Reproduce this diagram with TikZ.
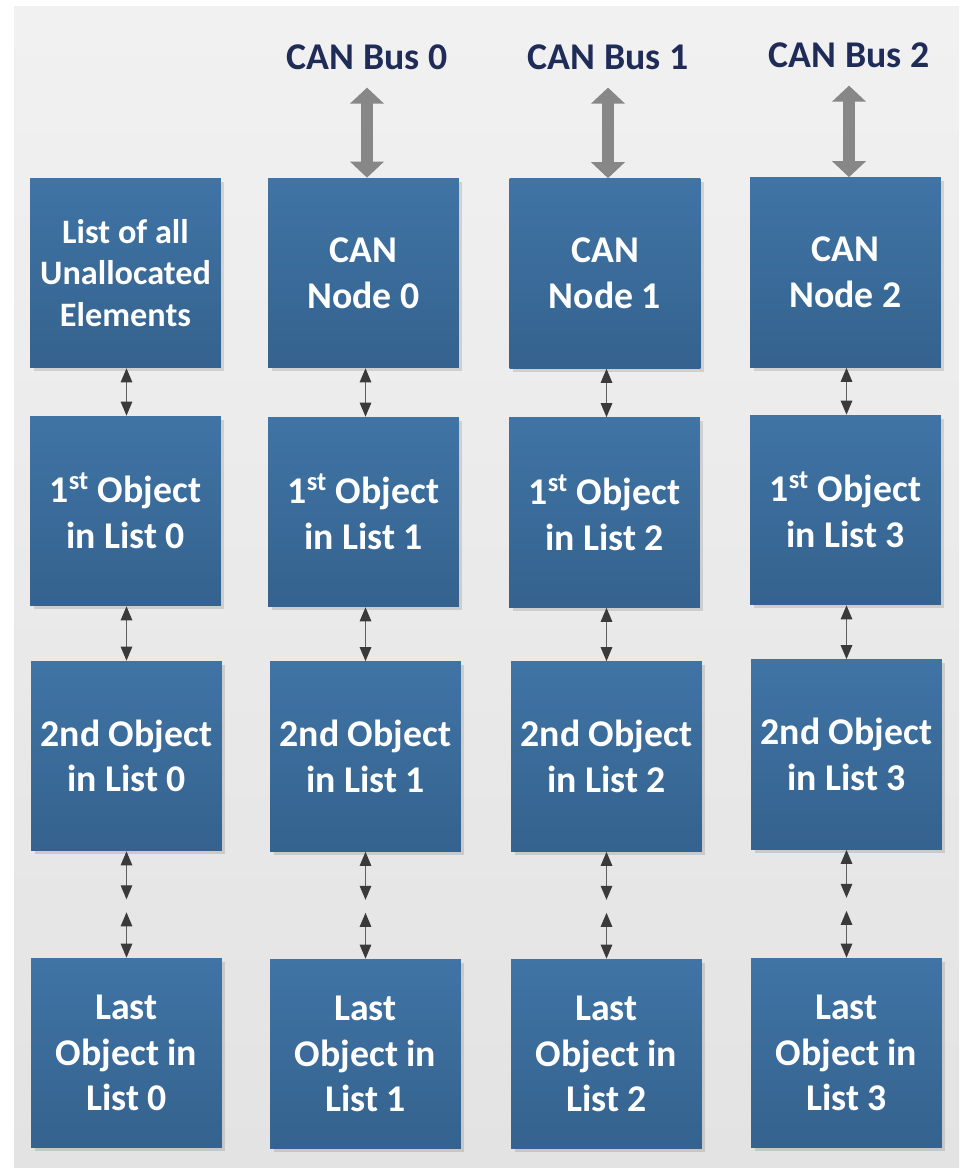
\documentclass[tikz,border=0pt]{standalone}
\usepackage{fontspec}
\setmainfont{Carlito}
\usetikzlibrary{arrows.meta,shadows}

\definecolor{boxtop}{RGB}{63,116,165}
\definecolor{boxbot}{RGB}{53,98,142}
\definecolor{bustext}{RGB}{32,44,88}
\definecolor{busgray}{RGB}{135,135,135}
\definecolor{headgray}{RGB}{58,58,58}
\definecolor{shaftgray}{RGB}{95,95,95}
\definecolor{paneltop}{RGB}{241,241,241}
\definecolor{panelbot}{RGB}{227,227,227}

\tikzset{
  listbox/.style={rectangle, minimum width=3.82cm, minimum height=3.8cm,
    top color=boxtop, bottom color=boxbot, text=white, align=center, inner sep=0pt,
    font=\fontsize{21.5}{26}\selectfont\bfseries,
    drop shadow={shadow xshift=0.07cm, shadow yshift=-0.07cm, fill=black, opacity=0.12}},
  buslabel/.style={text=bustext, anchor=base, inner xsep=0pt, inner ysep=0.34cm,
    font=\fontsize{21.5}{26}\selectfont\bfseries},
  link/.style={draw=shaftgray, line width=0.7pt,
    {Triangle[width=0.23cm,length=0.28cm,color=headgray]}-{Triangle[width=0.23cm,length=0.28cm,color=headgray]}},
  busarrow/.style={draw=busgray, line width=0.24cm,
    {Triangle[width=0.66cm,length=0.32cm]}-{Triangle[width=0.66cm,length=0.32cm]}}
}

\begin{document}
\begin{tikzpicture}[x=0.02cm,y=-0.02cm]
\useasboundingbox (0,0) rectangle (959,1168);
\shade[top color=paneltop, bottom color=panelbot] (14,7) rectangle (959,1168);

% bus labels
\node[buslabel] (bus0) at (367,70) {CAN Bus 0};
\node[buslabel] (bus1) at (608,70) {CAN Bus 1};
\node[buslabel] (bus2) at (849,68) {CAN Bus 2};

% top row
\node[listbox, font=\fontsize{19.5}{23.5}\selectfont\bfseries] (head0) at (125.5,273) {List of all\\Unallocated\\Elements};
\node[listbox] (head1) at (363.5,273) {CAN\\Node 0};
\node[listbox] (head2) at (605,273.5) {CAN\\Node 1};
\node[listbox] (head3) at (845.5,272.5) {CAN\\Node 2};

% first objects
\node[listbox] (first0) at (125.5,511) {1\textsuperscript{st} Object\\in List 0};
\node[listbox] (first1) at (363.5,512) {1\textsuperscript{st} Object\\in List 1};
\node[listbox] (first2) at (604.5,512.5) {1\textsuperscript{st} Object\\in List 2};
\node[listbox] (first3) at (845.5,510) {1\textsuperscript{st} Object\\in List 3};

% second objects
\node[listbox] (second0) at (126.5,756) {2nd Object\\in List 0};
\node[listbox] (second1) at (365.5,756.5) {2nd Object\\in List 1};
\node[listbox] (second2) at (606.5,756.5) {2nd Object\\in List 2};
\node[listbox] (second3) at (846.5,754.5) {2nd Object\\in List 3};

% last objects
\node[listbox] (last0) at (126.5,1053) {Last\\Object in\\List 0};
\node[listbox] (last1) at (365.5,1054) {Last\\Object in\\List 1};
\node[listbox] (last2) at (606.5,1054) {Last\\Object in\\List 2};
\node[listbox] (last3) at (846.5,1053) {Last\\Object in\\List 3};

% bus connections
\draw[busarrow] (bus0.south) -- (bus0.south |- head1.north);
\draw[busarrow] (bus1.south) -- (bus1.south |- head2.north);
\draw[busarrow] (bus2.south) -- (bus2.south |- head3.north);

% list links
\draw[link] (head0.south -| second0.north) -- (first0.north -| second0.north);
\draw[link] (head1.south -| second1.north) -- (first1.north -| second1.north);
\draw[link] (head2.south -| second2.north) -- (first2.north -| second2.north);
\draw[link] (head3.south -| second3.north) -- (first3.north -| second3.north);

\draw[link] (first0.south -| second0.north) -- (second0.north);
\draw[link] (first1.south -| second1.north) -- (second1.north);
\draw[link] (first2.south -| second2.north) -- (second2.north);
\draw[link] (first3.south -| second3.north) -- (second3.north);

\path (second0.south) ++(0,48) coordinate (gap0a) ++(0,13) coordinate (gap0b);
\path (second1.south) ++(0,48) coordinate (gap1a) ++(0,13) coordinate (gap1b);
\path (second2.south) ++(0,48) coordinate (gap2a) ++(0,13) coordinate (gap2b);
\path (second3.south) ++(0,48) coordinate (gap3a) ++(0,13) coordinate (gap3b);
\draw[link] (second0.south) -- (gap0a);
\draw[link] (gap0b) -- (gap0b |- last0.north);
\draw[link] (second1.south) -- (gap1a);
\draw[link] (gap1b) -- (gap1b |- last1.north);
\draw[link] (second2.south) -- (gap2a);
\draw[link] (gap2b) -- (gap2b |- last2.north);
\draw[link] (second3.south) -- (gap3a);
\draw[link] (gap3b) -- (gap3b |- last3.north);
\end{tikzpicture}
\end{document}
